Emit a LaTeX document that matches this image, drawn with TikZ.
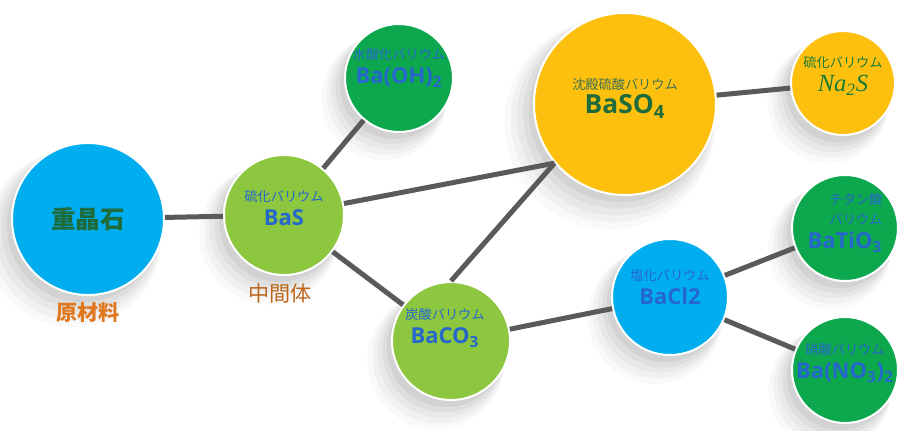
\documentclass[tikz,border=0pt]{standalone}
\usepackage{fontspec}
\setmainfont{Noto Sans CJK JP}
\newfontfamily\serifit{Liberation Serif}
\newfontfamily\formfont{Open Sans}
\usetikzlibrary{shadows}

\definecolor{cyanball}{HTML}{00AEEF}
\definecolor{limeball}{HTML}{8DC63F}
\definecolor{greenball}{HTML}{0DA84E}
\definecolor{yellowball}{HTML}{FEC00F}
\definecolor{bluetext}{HTML}{2567CC}
\definecolor{darkgreentext}{HTML}{1E6B3C}
\definecolor{orangetext}{HTML}{E07820}
\definecolor{linkgray}{HTML}{5A5A5A}

\newcommand{\kana}[1]{{\fontsize{7.5}{9}\selectfont #1}}
\newcommand{\chem}[1]{{\formfont\fontsize{12.5}{15}\selectfont\bfseries #1}}

\tikzset{
  ball/.style={circle, fill=#1, draw=white, line width=0.4mm, inner sep=0pt,
    general shadow={fill=black, opacity=0.025, shadow scale=1.16, shadow xshift=-2.6mm, shadow yshift=-3.4mm},
    general shadow={fill=black, opacity=0.03, shadow scale=1.12, shadow xshift=-2.2mm, shadow yshift=-2.9mm},
    general shadow={fill=black, opacity=0.035, shadow scale=1.08, shadow xshift=-1.8mm, shadow yshift=-2.4mm},
    general shadow={fill=black, opacity=0.04, shadow scale=1.04, shadow xshift=-1.4mm, shadow yshift=-1.9mm},
    general shadow={fill=black, opacity=0.05, shadow scale=1.0, shadow xshift=-1mm, shadow yshift=-1.4mm}},
  rad/.style={minimum size=#1*0.4mm},
  balltext/.style={align=center, text=bluetext, font=\fontsize{8}{14}\selectfont},
  link/.style={draw=linkgray, line width=1mm}
}

\begin{document}
\begin{tikzpicture}[x=0.2mm, y=-0.2mm]
  \fill[white] (0,0) rectangle (900,430);
  \useasboundingbox (0,0) rectangle (900,430);

  % balls
  \node[ball=cyanball, rad=76] (barite) at (88,219) {};
  \node[ball=limeball, rad=60] (bas) at (284,215) {};
  \node[ball=greenball, rad=54] (baoh) at (399,78) {};
  \node[ball=yellowball, rad=91] (baso) at (625,104) {};
  \node[ball=yellowball, rad=52] (nas) at (843,83) {};
  \node[ball=limeball, rad=59] (baco) at (451,341) {};
  \node[ball=cyanball, rad=58] (bacl) at (670,297) {};
  \node[ball=greenball, rad=53] (bati) at (845,228) {};
  \node[ball=greenball, rad=53] (bano) at (845,370) {};

  % links
  \foreach \a/\b in {barite/bas, bas/baoh, bas/baco, baco/bacl, baso/nas, bacl/bati, bacl/bano}
    \draw[link] (\a) -- (\b);
  \draw[link] (bas) -- (baso.220);
  \draw[link] (baco.north) -- (baso.220);

  % texts
  \node[text=darkgreentext, font=\fontsize{14}{16}\selectfont\bfseries] (barite-t) at (barite) {重晶石};
  \node[text=orangetext, font=\fontsize{12}{14}\selectfont\bfseries] (raw) at (88,312) {原材料};
  \node[text=orangetext!85!black, font=\fontsize{12}{14}\selectfont] (mid) at (280,293) {中間体};
  \node[balltext] (bas-t) at ([yshift=1.4mm]bas) {\kana{硫化バリウム}\\\chem{BaS}};
  \node[balltext] (baoh-t) at ([yshift=2mm]baoh) {\kana{水酸化バリウム}\\\chem{Ba(OH)\textsubscript{2}}};
  \node[balltext, text=darkgreentext] (baso-t) at ([yshift=1.2mm]baso)
    {\textcolor{darkgreentext!70!gray}{\kana{沈殿硫酸バリウム}}\\{\formfont\fontsize{15}{17}\selectfont\bfseries BaSO\textsubscript{4}}};
  \node[balltext, text=darkgreentext!90!green] (nas-t) at ([yshift=1.4mm]nas)
    {\kana{硫化バリウム}\\{\serifit\itshape\fontsize{14}{16}\selectfont Na\textsubscript{2}S}};
  \node[balltext] (baco-t) at ([xshift=-1.2mm, yshift=2.6mm]baco) {\kana{炭酸バリウム}\\\chem{BaCO\textsubscript{3}}};
  \node[balltext] (bacl-t) at ([yshift=2mm]bacl) {\kana{塩化バリウム}\\\chem{BaCl2}};
  \node[balltext, align=right, font=\fontsize{8}{11}\selectfont] (bati-t) at ([yshift=1mm]bati)
    {\kana{チタン酸}\\\kana{バリウム}\\[1mm]\chem{BaTiO\textsubscript{3}}};
  \node[balltext] (bano-t) at ([yshift=1.4mm]bano) {\kana{硝酸バリウム}\\\chem{Ba(NO\textsubscript{3})\textsubscript{2}}};
\end{tikzpicture}
\end{document}
